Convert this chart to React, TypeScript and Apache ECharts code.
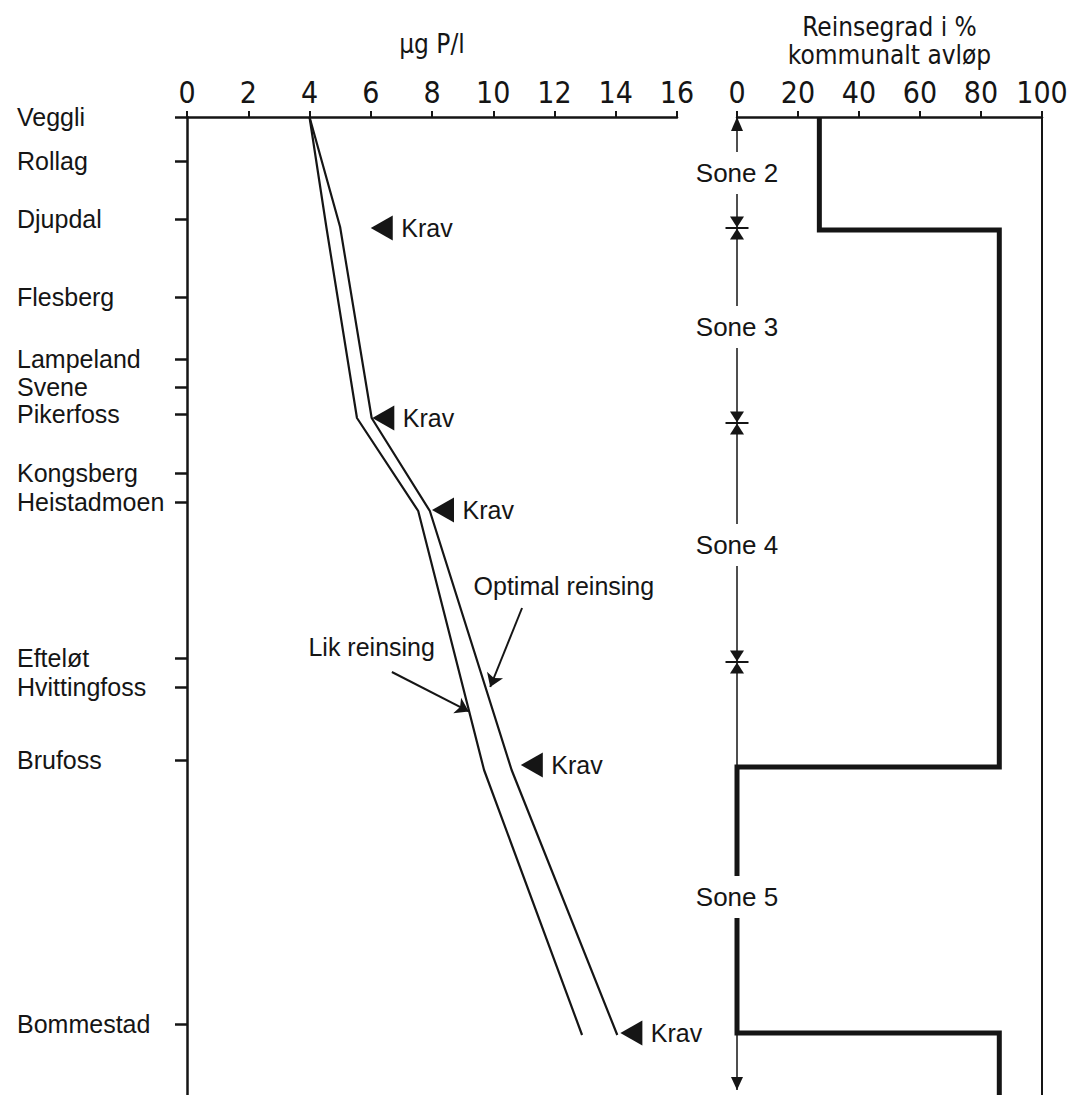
import React, { useEffect, useRef } from "react";
import * as echarts from "echarts";

// Stations along the river (position = relative distance downstream, axis units)
const stations = ["Veggli", "Rollag", "Djupdal", "Flesberg", "Lampeland", "Svene", "Pikerfoss", "Kongsberg", "Heistadmoen", "Efteløt", "Hvittingfoss", "Brufoss", "Bommestad"];
const stationPos = [0, 11, 25.5, 45, 60.5, 67.5, 74.25, 89, 96.25, 135.25, 142.5, 160.75, 226.75];

// Phosphorus profiles (µg P/l) at break points
const vertexPos = [0, 27.5, 75.25, 98.5, 163.25, 229.5];
const likReinsing = [4.0, 4.55, 5.55, 7.55, 9.7, 12.9];
const optimalReinsing = [4.0, 5.0, 6.03, 7.93, 10.6, 14.05];

// Requirements ("Krav")
const kravValues = [6.0, 6.05, 8.0, 10.9, 14.15];
const kravPos = [27.75, 75.25, 98.25, 162, 229];

// Treatment degree (%) for municipal sewage, step profile
const reinsegrad = [27, 27, 86, 86, 0, 0, 86, 86];
const reinsegradPos = [0, 28.25, 28.25, 162.5, 162.5, 229, 229, 244.5];

// Zones
const zoneNames = ["Sone 2", "Sone 3", "Sone 4", "Sone 5"];
const zoneLabelPos = [14, 52.5, 107, 195];
const zoneBoundaries = [27.75, 76.5, 136.25];
const zoneEnd = 243.25;

// Annotations
const annotTexts = ["Lik reinsing", "Optimal reinsing"];
const annotTextX = [3.95, 9.34];
const annotTextY = [132.5, 117.25];
const annotArrowFrom = [[6.69, 138.75], [10.94, 122.75]];
const annotArrowTo = [[9.2, 148.6], [9.9, 142.5]];

const Y_MAX = 244.5;
const INK = "#151515";
const NARROW = "'Liberation Sans Narrow', 'DejaVu Sans Condensed', 'Liberation Sans', sans-serif";
const SANS = "'Liberation Sans', Arial, sans-serif";
const HIDDEN = { color: "rgba(0,0,0,0)", opacity: 1 };

export default function App() {
  const ref = useRef<HTMLDivElement>(null);
  useEffect(() => {
    if (!ref.current) return;
    const chart = echarts.init(ref.current, null, { renderer: "svg" });

    const zoneMarks: any[] = [
      { value: [0, 0], symbol: "triangle", symbolSize: [12, 14], symbolOffset: [0, 7] },
      { value: [0, zoneEnd], symbol: "triangle", symbolRotate: 180, symbolSize: [12, 13], symbolOffset: [0, -6.5] },
    ];
    zoneBoundaries.forEach((p) => {
      zoneMarks.push({ value: [0, p], symbol: "triangle", symbolRotate: 180, symbolSize: [14, 11], symbolOffset: [0, -6] });
      zoneMarks.push({ value: [0, p], symbol: "triangle", symbolSize: [14, 11], symbolOffset: [0, 6] });
      zoneMarks.push({ value: [0, p], symbol: "rect", symbolSize: [23, 2] });
    });

    chart.setOption({
      animation: false,
      backgroundColor: "#fff",
      grid: [
        { left: 187, top: 117, width: 490, height: 978, containLabel: false, outerBoundsMode: "none" },
        { left: 737, top: 117, width: 305, height: 978, containLabel: false, outerBoundsMode: "none" },
      ],
      xAxis: [
        {
          gridIndex: 0, type: "value", position: "top", min: 0, max: 16, interval: 2,
          axisLine: { show: true, lineStyle: { color: INK, width: 2.5 } },
          axisTick: { show: true, length: 6, lineStyle: { color: INK, width: 2 } },
          axisLabel: { color: INK, fontSize: 30, fontFamily: NARROW, margin: 10 },
          splitLine: { show: false },
          name: "µg P/l", nameLocation: "middle", nameGap: 60,
          nameTextStyle: { color: INK, fontSize: 26, fontFamily: NARROW },
        },
        {
          gridIndex: 1, type: "value", position: "top", min: 0, max: 100, interval: 20,
          axisLine: { show: true, lineStyle: { color: INK, width: 2.5 } },
          axisTick: { show: true, length: 6, lineStyle: { color: INK, width: 2 } },
          axisLabel: { color: INK, fontSize: 30, fontFamily: NARROW, margin: 10 },
          splitLine: { show: false },
          name: "Reinsegrad i %\nkommunalt avløp", nameLocation: "middle", nameGap: 48,
          nameTextStyle: { color: INK, fontSize: 26, fontFamily: NARROW, lineHeight: 28 },
        },
      ],
      yAxis: [
        {
          gridIndex: 0, type: "value", inverse: true, min: 0, max: Y_MAX,
          axisLine: { show: true, lineStyle: { color: INK, width: 2.5 } },
          axisTick: { show: true, length: 12, customValues: stationPos, lineStyle: { color: INK, width: 2.5 } },
          axisLabel: {
            show: true, customValues: stationPos, align: "left", margin: 170,
            color: INK, fontSize: 25, fontFamily: SANS,
            formatter: (v: number) => {
              const i = stationPos.findIndex((p) => Math.abs(p - v) < 0.01);
              return i >= 0 ? stations[i] : "";
            },
          },
          splitLine: { show: false },
        },
        { gridIndex: 1, type: "value", inverse: true, min: 0, max: Y_MAX, show: false },
      ],
      series: [
        {
          name: "Lik reinsing", type: "line", xAxisIndex: 0, yAxisIndex: 0, symbol: "none",
          lineStyle: { color: INK, width: 2.2 },
          data: likReinsing.map((v, i) => [v, vertexPos[i]]),
        },
        {
          name: "Optimal reinsing", type: "line", xAxisIndex: 0, yAxisIndex: 0, symbol: "none",
          lineStyle: { color: INK, width: 2.2 },
          data: optimalReinsing.map((v, i) => [v, vertexPos[i]]),
        },
        {
          name: "Krav", type: "scatter", xAxisIndex: 0, yAxisIndex: 0,
          symbol: "triangle", symbolRotate: 90, symbolSize: [25, 22], symbolOffset: [11, 0],
          itemStyle: { color: INK, opacity: 1 },
          data: kravValues.map((v, i) => [v, kravPos[i]]),
        },
        {
          name: "Krav-tekst", type: "scatter", xAxisIndex: 0, yAxisIndex: 0,
          symbol: "circle", symbolSize: 1, itemStyle: HIDDEN,
          label: { show: true, position: "right", distance: 30, formatter: "Krav", color: INK, opacity: 1, fontSize: 25, fontFamily: SANS },
          data: kravValues.map((v, i) => [v, kravPos[i]]),
        },
        {
          name: "Annotasjon", type: "scatter", xAxisIndex: 0, yAxisIndex: 0,
          symbol: "circle", symbolSize: 1, itemStyle: HIDDEN,
          label: {
            show: true, position: "right", distance: 0, color: INK, opacity: 1, fontSize: 25, fontFamily: SANS,
            formatter: (p: any) => annotTexts[p.dataIndex],
          },
          data: annotTextX.map((v, i) => [v, annotTextY[i]]),
        },
        {
          name: "Piler", type: "lines", coordinateSystem: "cartesian2d", xAxisIndex: 0, yAxisIndex: 0,
          symbol: ["none", "arrow"], symbolSize: 13,
          lineStyle: { color: INK, width: 2, opacity: 1 },
          data: annotArrowFrom.map((f, i) => ({ coords: [f, annotArrowTo[i]] })),
        },
        {
          name: "Reinsegrad", type: "line", xAxisIndex: 1, yAxisIndex: 1, symbol: "none",
          lineStyle: { color: INK, width: 5, join: "miter" },
          data: reinsegrad.map((v, i) => [v, reinsegradPos[i]]),
          z: 3,
        },
        {
          name: "Sonelinje", type: "line", xAxisIndex: 1, yAxisIndex: 1, symbol: "none",
          lineStyle: { color: INK, width: 1.5 },
          data: [[0, 0], [0, zoneEnd]],
          z: 2,
        },
        {
          name: "100", type: "line", xAxisIndex: 1, yAxisIndex: 1, symbol: "none",
          lineStyle: { color: INK, width: 2 },
          data: [[100, 0], [100, Y_MAX]],
        },
        {
          name: "Sonegrenser", type: "scatter", xAxisIndex: 1, yAxisIndex: 1,
          itemStyle: { color: INK, opacity: 1 },
          data: zoneMarks,
          z: 4,
        },
        {
          name: "Soner", type: "scatter", xAxisIndex: 1, yAxisIndex: 1,
          symbol: "circle", symbolSize: 1, itemStyle: HIDDEN,
          label: {
            show: true, position: "inside", color: INK, opacity: 1, fontSize: 26, fontFamily: SANS,
            backgroundColor: "#fff", padding: [8, 3],
            formatter: (p: any) => zoneNames[p.dataIndex],
          },
          data: zoneLabelPos.map((p) => [0, p]),
          z: 10,
        },
      ],
    });
    return () => chart.dispose();
  }, []);

  return <div ref={ref} style={{ position: "absolute", left: 0, top: 0, width: 1070, height: 1095 }} />;
}
